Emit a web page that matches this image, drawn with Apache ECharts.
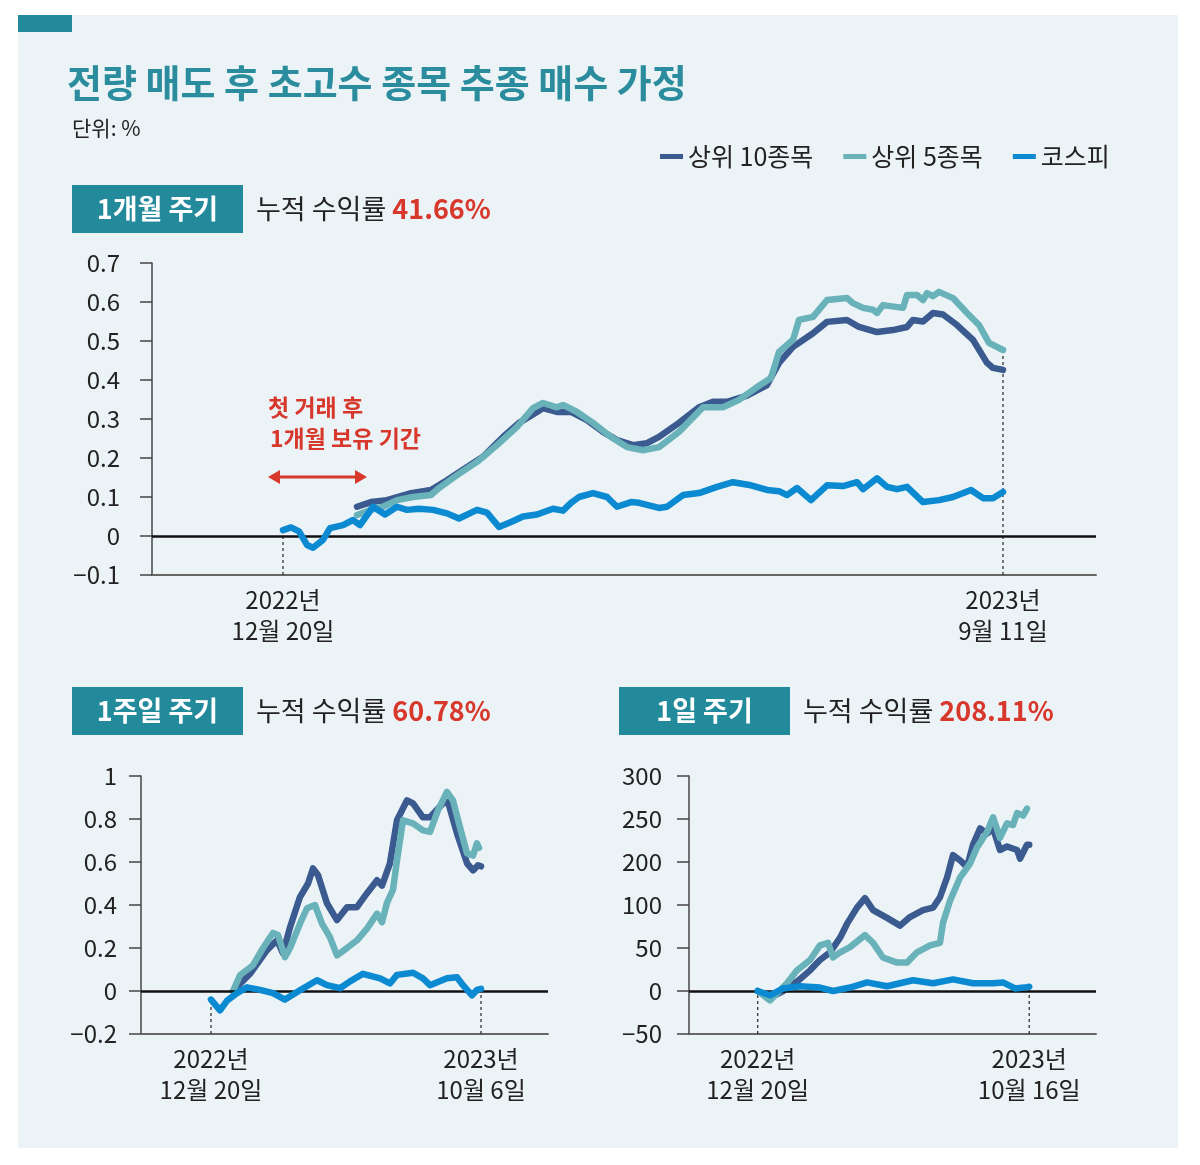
<!DOCTYPE html>
<html><head><meta charset="utf-8">
<script src="https://cdn.jsdelivr.net/npm/echarts@6/dist/echarts.min.js"></script>
<style>html,body{margin:0;padding:0;background:#fff}#c{width:1200px;height:1165px}</style>
</head><body><div id="c"></div>
<script>
const FONT = '"Noto Sans CJK KR", "Noto Sans", sans-serif';
const seriesNames = ['상위 10종목', '상위 5종목', '코스피'];
const seriesColors = ['#3b5a90', '#6ab2b9', '#0b8ad2'];

// ---- 1개월 주기 (x: trading-day index from 2022-12-20, y: return) ----
const top10_1m = [[18.5,0.075],[22,0.087],[26,0.092],[32,0.11],[37,0.118],[41,0.143],[45,0.17],[50,0.203],[55,0.254],[59,0.29],[63.5,0.318],[65,0.328],[68.5,0.318],[72,0.318],[76,0.297],[80,0.267],[83.5,0.246],[87.5,0.233],[91,0.238],[94,0.254],[99,0.29],[104,0.33],[107.5,0.344],[111,0.344],[116,0.36],[121,0.387],[124,0.444],[127.5,0.485],[132.5,0.52],[136,0.549],[141,0.554],[144,0.536],[148.5,0.523],[152.5,0.528],[156,0.536],[157.5,0.554],[160,0.55],[162.5,0.572],[165,0.568],[168.5,0.541],[172.5,0.503],[176,0.444],[177.5,0.431],[180,0.426]];
const top5_1m = [[18.5,0.054],[22,0.067],[25,0.075],[28.5,0.092],[32.5,0.1],[37,0.105],[39,0.123],[43.5,0.156],[48.5,0.19],[53.5,0.233],[58.5,0.28],[62.5,0.328],[65,0.341],[68.5,0.33],[70,0.336],[73.5,0.318],[77.5,0.29],[82,0.254],[86,0.228],[90,0.22],[94,0.228],[99,0.267],[105,0.33],[110,0.33],[114,0.349],[118.5,0.382],[122,0.405],[124,0.472],[127.5,0.503],[129,0.554],[132.5,0.562],[136,0.605],[141,0.61],[142.5,0.597],[145,0.585],[147.5,0.58],[148.5,0.572],[150,0.592],[155,0.585],[156,0.618],[158.5,0.618],[160,0.605],[161,0.623],[162.5,0.615],[164,0.626],[167.5,0.61],[171,0.572],[174,0.541],[176.5,0.495],[180,0.477]];
const kospi_1m = [[0,0.015],[2,0.022],[4,0.012],[6,-0.023],[7.5,-0.03],[10,-0.01],[11.75,0.02],[15,0.028],[17.5,0.041],[19.25,0.028],[22.5,0.075],[25.5,0.055],[28.5,0.075],[31,0.067],[34,0.07],[37.5,0.067],[41,0.058],[44,0.045],[48.5,0.067],[51,0.06],[54,0.023],[57,0.036],[60,0.05],[63.5,0.055],[67.5,0.07],[70,0.065],[72,0.085],[74,0.1],[77.5,0.11],[81,0.1],[83.5,0.075],[87,0.087],[89,0.085],[94,0.072],[96,0.075],[100,0.105],[104,0.11],[108.5,0.126],[112.5,0.138],[117,0.13],[121,0.118],[124,0.115],[126,0.105],[128.5,0.123],[132,0.092],[136,0.13],[140,0.128],[143.5,0.138],[145,0.12],[148.5,0.148],[151,0.126],[153.5,0.12],[156,0.126],[160,0.087],[164,0.092],[167.5,0.1],[172,0.118],[175,0.097],[177.5,0.097],[180,0.113]];
const yTicks_1m = [-0.1, 0.7, 0.1];
const xLabelPos_1m = [0, 180];
const xLabels_1m = ['2022년\n12월 20일', '2023년\n9월 11일'];
const guideTop_1m = [0.015, 0.477];

// ---- 1주일 주기 ----
const top10_1w = [[14.7,0],[26,0.08],[37.3,0.19],[44,0.236],[48,0.175],[52.7,0.297],[59.3,0.437],[64.7,0.5],[68,0.57],[71.3,0.54],[77.3,0.408],[84,0.33],[90.7,0.39],[97.3,0.39],[104,0.455],[110.7,0.515],[114,0.49],[119.3,0.594],[124,0.794],[130.7,0.887],[134.7,0.873],[141.3,0.808],[146,0.808],[154.7,0.873],[158,0.88],[164,0.733],[170.7,0.594],[174.7,0.561],[178,0.585],[180,0.58]];
const top5_1w = [[14.7,0],[19.3,0.073],[28,0.12],[34.7,0.2],[41.3,0.27],[44.7,0.26],[49.3,0.157],[52.7,0.2],[59.3,0.313],[64,0.385],[69.3,0.4],[74,0.313],[79.3,0.25],[84,0.166],[90.7,0.2],[97.3,0.236],[104,0.29],[110.7,0.36],[114,0.32],[117.3,0.41],[121.3,0.47],[124,0.608],[128,0.794],[134.7,0.78],[141.3,0.747],[146,0.74],[151.3,0.84],[157.3,0.926],[161.3,0.887],[166,0.761],[170.7,0.64],[174.7,0.63],[177.3,0.687],[178.7,0.666]];
const kospi_1w = [[0,-0.04],[6,-0.09],[10.7,-0.045],[17.3,-0.01],[24,0.017],[32.7,0.005],[41.3,-0.01],[49.3,-0.04],[59.3,0.003],[70.7,0.05],[77.3,0.027],[86,0.013],[92.7,0.045],[101.3,0.08],[112.7,0.059],[119.3,0.035],[124,0.075],[134.7,0.085],[141.3,0.059],[146,0.027],[157.3,0.059],[164,0.064],[168,0.027],[174,-0.02],[177.3,0.005],[180,0.01]];
const yTicks_1w = [-0.2, 1, 0.2];
const xLabelPos_1w = [0, 180];
const xLabels_1w = ['2022년\n12월 20일', '2023년\n10월 6일'];
const guideTop_1w = [-0.04, 0.01];

// ---- 1일 주기 (values as read against the printed tick labels) ----
const top10_1d = [[0,0],[8.2,-8],[16.9,0],[26.9,12],[34.9,24],[41.5,36],[48.2,45],[54.9,62],[59.5,78],[66.2,97],[71.5,116],[76.9,94],[86.2,85],[94.9,76],[101.5,86],[110.2,94],[116.9,97],[121.5,118],[126.2,164],[130.2,208],[134.9,202],[139.5,188],[143.5,220],[148.2,239],[152.9,233],[156.9,239],[161.5,214],[166.2,218],[172.9,214],[174.9,204],[179.5,220],[181,220]];
const top5_1d = [[0,0],[8.2,-11],[19.5,9],[26.2,24],[34.9,36],[41.5,53],[46.9,56],[50.2,39],[54.9,45],[61.5,51],[71.5,65],[76.9,56],[83.5,39],[92.9,33],[99.5,33],[106.2,45],[114.9,53],[121.5,56],[123.5,79],[128.2,110],[134.9,164],[141.5,196],[146.2,217],[152.9,235],[156.9,252],[161.5,228],[166.2,245],[170.2,243],[172.9,257],[176.9,254],[179.5,262]];
const kospi_1d = [[0,0],[8.2,-5],[16.9,3],[28.2,5.5],[41.5,4],[50.2,0],[61.5,4],[72.9,10],[86.2,5.5],[103.5,12.5],[116.9,9],[130.2,13.5],[143.5,9],[156.9,9],[163.5,10],[171.5,3],[179.5,4.5],[181,5]];
const yTickLabels_1d = ['−50', '0', '50', '100', '200', '250', '300'];
const yTickValues_1d = [-50, 0, 50, 100, 200, 250, 300];
const xLabelPos_1d = [0, 181];
const xLabels_1d = ['2022년\n12월 20일', '2023년\n10월 16일'];
const guideTop_1d = [0, 5];

const cycleTitles = ['1개월 주기', '1주일 주기', '1일 주기'];
const cumReturns = ['41.66%', '60.78%', '208.11%'];

// The 1일 axis prints evenly spaced labels -50..300 skipping 150: map printed values to even positions
function toPos1d(v) {
  for (let i = 0; i < yTickValues_1d.length - 1; i++) {
    const a = yTickValues_1d[i], b = yTickValues_1d[i + 1];
    if (v <= b || i === yTickValues_1d.length - 2) {
      return (i + (v - a) / (b - a)) * 50 - 50;
    }
  }
}
const conv1d = arr => arr.map(p => [p[0], toPos1d(p[1])]);

const chart = echarts.init(document.getElementById('c'), null, {renderer: 'canvas'});

const grids = [
  {left: 152, top: 263, width: 944, height: 312},
  {left: 141, top: 776, width: 407, height: 258},
  {left: 689, top: 776, width: 407, height: 258}
];
const xRanges = [[-32.75, 203.25], [-46.67, 224.67], [-45.8, 225.5]];
const labelMargins = [32, 24, 27];

function fmtNum(v) {
  const r = Math.round(v * 10) / 10;
  return String(r).replace('-', '−');
}

const xAxisDefs = [[xLabelPos_1m, xLabels_1m], [xLabelPos_1w, xLabels_1w], [xLabelPos_1d, xLabels_1d]];
const xAxes = xAxisDefs.map((d, i) => ({
  type: 'value', gridIndex: i, min: xRanges[i][0], max: xRanges[i][1],
  axisLine: {show: true, onZero: false, lineStyle: {color: '#666', width: 2}},
  axisTick: {show: false}, splitLine: {show: false},
  axisLabel: {
    customValues: d[0], margin: 9, fontSize: 24, lineHeight: 31, color: '#222', fontFamily: FONT,
    formatter: v => { let k = 0, best = 1e9; d[0].forEach((p, j) => { if (Math.abs(p - v) < best) { best = Math.abs(p - v); k = j; } }); return d[1][k]; }
  }
}));

const yCommon = (i) => ({
  type: 'value', gridIndex: i,
  axisLine: {show: true, onZero: false, lineStyle: {color: '#444', width: 1.5}},
  axisTick: {show: true, length: 12, lineStyle: {color: '#444', width: 1.5}},
  splitLine: {show: false},
  axisLabel: {fontSize: 24, color: '#222', fontFamily: FONT, margin: labelMargins[i], formatter: fmtNum}
});
const yAxes = [
  Object.assign(yCommon(0), {min: yTicks_1m[0], max: yTicks_1m[1], interval: yTicks_1m[2]}),
  Object.assign(yCommon(1), {min: yTicks_1w[0], max: yTicks_1w[1], interval: yTicks_1w[2]}),
  Object.assign(yCommon(2), {min: -50, max: 250, interval: 50})
];
yAxes[2].axisLabel.formatter = v => yTickLabels_1d[Math.round((v + 50) / 50)];

const dataSets = [
  [top10_1m, top5_1m, kospi_1m],
  [top10_1w, top5_1w, kospi_1w],
  [conv1d(top10_1d), conv1d(top5_1d), conv1d(kospi_1d)]
];
const guides = [
  [xLabelPos_1m, guideTop_1m, yTicks_1m[0]],
  [xLabelPos_1w, guideTop_1w, yTicks_1w[0]],
  [xLabelPos_1d, guideTop_1d.map(toPos1d), -50]
];

const series = [];
dataSets.forEach((sets, g) => {
  guides[g][0].forEach((xp, j) => {
    series.push({
      type: 'line', name: 'guide', xAxisIndex: g, yAxisIndex: g, silent: true, z: 1,
      symbol: 'none', data: [[xp, guides[g][2]], [xp, guides[g][1][j]]],
      lineStyle: {color: '#333', width: 1.3, type: [3, 3]},
      markLine: j === 0 ? {silent: true, symbol: ['none', 'none'], label: {show: false},
        lineStyle: {color: '#111', width: 2.5, type: 'solid'}, data: [{yAxis: 0}]} : undefined
    });
  });
  sets.forEach((d, k) => {
    series.push({
      type: 'line', name: seriesNames[k], xAxisIndex: g, yAxisIndex: g, z: 3 + k,
      data: d, showSymbol: false, symbol: 'none', smooth: false,
      color: seriesColors[k],
      lineStyle: {color: seriesColors[k], width: 6.5, cap: 'round', join: 'round'}
    });
  });
});

const boxes = [[72, 185], [72, 687], [619, 687]];
const graphics = [
  {type: 'rect', z: -10, shape: {x: 18, y: 15, width: 1160, height: 1133}, style: {fill: '#ebf3f6'}},
  {type: 'rect', z: -9, shape: {x: 18, y: 15, width: 54, height: 17}, style: {fill: '#238a9b'}},
  {type: 'text', x: 67, y: 83, style: {text: '전량 매도 후 초고수 종목 추종 매수 가정', font: 'bold 38px ' + FONT, fill: '#2a8c9c', textVerticalAlign: 'middle'}},
  {type: 'text', x: 72, y: 128, style: {text: '단위: %', font: '21px ' + FONT, fill: '#222', textVerticalAlign: 'middle'}},
  {type: 'text', x: 268, y: 407, style: {text: '첫 거래 후', font: 'bold 23px ' + FONT, fill: '#d8372c', textVerticalAlign: 'middle'}},
  {type: 'text', x: 270, y: 438, style: {text: '1개월 보유 기간', font: 'bold 23px ' + FONT, fill: '#d8372c', textVerticalAlign: 'middle'}},
  {type: 'line', shape: {x1: 276, y1: 477, x2: 359, y2: 477}, style: {stroke: '#d8372c', lineWidth: 3}},
  {type: 'polygon', shape: {points: [[268, 477], [280, 470], [280, 484]]}, style: {fill: '#d8372c'}},
  {type: 'polygon', shape: {points: [[367, 477], [355, 470], [355, 484]]}, style: {fill: '#d8372c'}}
];
boxes.forEach((b, i) => {
  graphics.push({type: 'rect', shape: {x: b[0], y: b[1], width: 171, height: 48}, style: {fill: '#238a9b'}});
  graphics.push({type: 'text', x: b[0] + 85.5, y: b[1] + 24, style: {text: cycleTitles[i], font: 'bold 27px ' + FONT, fill: '#fff', textAlign: 'center', textVerticalAlign: 'middle'}});
  graphics.push({type: 'text', x: b[0] + 184, y: b[1] + 24, style: {
    text: '{a|누적 수익률 }{b|' + cumReturns[i] + '}', textVerticalAlign: 'middle',
    rich: {a: {fontSize: 27, fontFamily: FONT, fill: '#222', color: '#222'}, b: {fontSize: 27, fontWeight: 'bold', fontFamily: FONT, color: '#d8372c', fill: '#d8372c'}}
  }});
});

chart.setOption({
  animation: false,
  backgroundColor: '#ffffff',
  grid: grids,
  xAxis: xAxes,
  yAxis: yAxes,
  legend: {
    data: seriesNames, left: 655, top: 139, icon: 'rect', itemWidth: 23, itemHeight: 5, itemGap: 30,
    selectedMode: false, textStyle: {fontSize: 25, color: '#222', fontFamily: FONT}
  },
  series: series,
  graphic: graphics
});
</script>
</body></html>
